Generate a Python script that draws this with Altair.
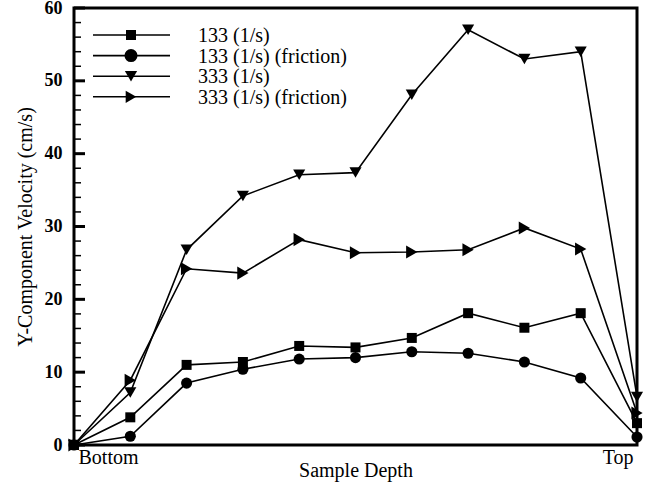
import altair as alt
import pandas as pd

# Sample positions from bottom (0) to top (10)
depth = list(range(11))
depth_tick_values = [0, 10]
depth_tick_labels = ["Bottom", "Top"]

series = ["133 (1/s)", "133 (1/s) (friction)", "333 (1/s)", "333 (1/s) (friction)"]
vel_133 = [0, 3.8, 11.0, 11.4, 13.6, 13.4, 14.7, 18.1, 16.1, 18.1, 3.0]
vel_133_fric = [0, 1.2, 8.5, 10.4, 11.8, 12.0, 12.8, 12.6, 11.4, 9.2, 1.1]
vel_333 = [0, 7.2, 26.8, 34.2, 37.1, 37.4, 48.1, 57.0, 53.0, 54.0, 6.6]
vel_333_fric = [0, 8.9, 24.2, 23.6, 28.2, 26.4, 26.5, 26.8, 29.8, 26.9, 4.4]

velocity_ticks = [0, 10, 20, 30, 40, 50, 60]
velocity_minor = [v for v in range(0, 61, 2) if v % 10]

shapes = ["square", "circle", "triangle-down", "triangle-right"]
sizes = [100, 170, 150, 150]

FONT = "Liberation Serif"

rows = []
for name, vals in zip(series, [vel_133, vel_133_fric, vel_333, vel_333_fric]):
    for d, v in zip(depth, vals):
        rows.append({"depth": d, "velocity": v, "series": name})
df = pd.DataFrame(rows)

label_expr = " : ".join(
    f"datum.value == {v} ? '{t}'" for v, t in zip(depth_tick_values, depth_tick_labels)
) + " : ''"

x_enc = alt.X(
    "depth:Q",
    scale=alt.Scale(domain=[0, 10], nice=False, zero=False),
    axis=alt.Axis(
        values=depth_tick_values,
        labelExpr=label_expr,
        labelAlign={"condition": {"test": "datum.value == 0", "value": "left"}, "value": "right"},
        labelOffset={"condition": {"test": "datum.value == 0", "value": 4}, "value": -4},
        ticks=False,
        domain=False,
        grid=False,
        labelPadding=2,
        labelFontSize=20,
        labelFont=FONT,
        title="Sample Depth",
        titleFont=FONT,
        titleFontSize=20,
        titleFontWeight="normal",
        titlePadding=-7,
        titleColor="black",
        labelColor="black",
    ),
)
y_enc = alt.Y(
    "velocity:Q",
    scale=alt.Scale(domain=[0, 60], nice=False),
    axis=alt.Axis(
        values=velocity_ticks,
        ticks=False,
        domain=False,
        grid=False,
        labelPadding=12,
        labelFontSize=18,
        labelFont=FONT,
        labelFontWeight="bold",
        title="Y-Component Velocity (cm/s)",
        titleFont=FONT,
        titleFontSize=20,
        titleFontWeight="normal",
        titlePadding=9,
        titleColor="black",
        labelColor="black",
    ),
)

shape_scale = alt.Scale(domain=series, range=shapes)
size_scale = alt.Scale(domain=series, range=sizes)

lines = alt.Chart(df).mark_line(color="black", strokeWidth=1.6).encode(
    x=x_enc, y=y_enc, detail="series:N"
)
points = alt.Chart(df).mark_point(filled=True, color="black", opacity=1).encode(
    x="depth:Q",
    y="velocity:Q",
    shape=alt.Shape("series:N", scale=shape_scale, legend=None),
    size=alt.Size("series:N", scale=size_scale, legend=None),
)

# Inward-pointing ticks on the velocity axis
major = alt.Chart(pd.DataFrame({"v": velocity_ticks})).mark_rule(
    color="black", strokeWidth=3
).encode(y="v:Q", x=alt.value(0), x2=alt.value(11))
minor = alt.Chart(pd.DataFrame({"v": velocity_minor})).mark_rule(
    color="black", strokeWidth=1.5
).encode(y="v:Q", x=alt.value(0), x2=alt.value(7))

# Legend block in the upper-left corner of the plot
legend_layers = []
for i, (name, shp, sz) in enumerate(zip(series, shapes, sizes)):
    ly = 27 + 20.6 * i
    row = pd.DataFrame({"series": [name]})
    legend_layers.append(
        alt.Chart(row).mark_rule(color="black", strokeWidth=1.6).encode(
            x=alt.value(19), x2=alt.value(96), y=alt.value(ly)
        )
    )
    legend_layers.append(
        alt.Chart(row).mark_point(filled=True, color="black", opacity=1, shape=shp, size=sz).encode(
            x=alt.value(57), y=alt.value(ly)
        )
    )
    legend_layers.append(
        alt.Chart(row).mark_text(
            align="left", baseline="middle", font=FONT, fontSize=20, color="black", dy=1
        ).encode(x=alt.value(124), y=alt.value(ly), text="series:N")
    )

chart = (
    alt.layer(minor, major, lines, points, *legend_layers)
    .properties(
        width=563,
        height=437,
        autosize=alt.AutoSizeParams(type="none"),
        padding={"left": 74, "top": 8, "right": 9, "bottom": 43},
        background="white",
    )
    .configure_view(stroke="black", strokeWidth=3)
)

chart.save("out.html", embed_options={"renderer": "svg", "actions": False})
